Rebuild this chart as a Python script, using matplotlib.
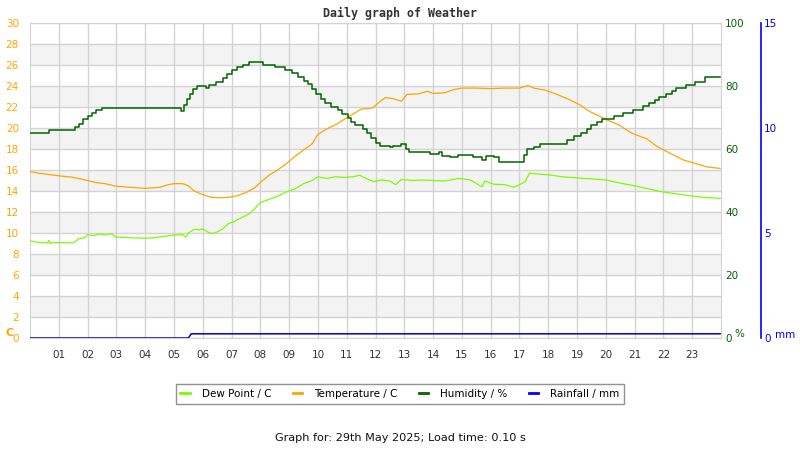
import matplotlib
matplotlib.use('Agg')
import matplotlib.pyplot as plt
from matplotlib.lines import Line2D

# Data (hours since midnight)
temp_h = [0.0, 0.3, 0.7, 1.0, 1.5, 2.0, 2.3, 2.6, 3.0, 3.5, 4.0, 4.5, 4.8, 5.0, 5.3, 5.5,
          5.7, 6.0, 6.3, 6.6, 6.9, 7.2, 7.5, 7.8, 8.0, 8.3, 8.6, 8.9, 9.2, 9.5, 9.8, 10.0,
          10.3, 10.6, 10.9, 11.2, 11.5, 11.9, 12.1, 12.35, 12.6, 12.9, 13.1, 13.5, 13.8,
          14.0, 14.4, 14.7, 15.0, 15.5, 16.0, 16.5, 17.0, 17.3, 17.5, 17.9, 18.3, 18.7,
          19.1, 19.45, 19.8, 20.1, 20.45, 20.9, 21.4, 21.8, 22.3, 22.7, 23.2, 23.5, 23.97]
temp_c = [15.85, 15.7, 15.55, 15.45, 15.3, 15.0, 14.8, 14.7, 14.45, 14.35, 14.25, 14.35,
          14.6, 14.7, 14.7, 14.5, 14.0, 13.65, 13.4, 13.35, 13.4, 13.55, 13.85, 14.3, 14.8,
          15.5, 16.0, 16.6, 17.3, 17.9, 18.5, 19.4, 19.9, 20.3, 20.8, 21.3, 21.8, 21.9, 22.4,
          22.9, 22.8, 22.55, 23.2, 23.25, 23.5, 23.3, 23.35, 23.65, 23.8, 23.8, 23.75, 23.8,
          23.8, 24.05, 23.8, 23.6, 23.2, 22.75, 22.2, 21.55, 21.1, 20.7, 20.3, 19.5, 19.0,
          18.2, 17.5, 16.95, 16.55, 16.3, 16.15]

dew_h = [0.0, 0.3, 0.6, 0.65, 0.7, 0.8, 1.5, 1.7, 1.9, 2.0, 2.2, 2.4, 2.6, 2.8, 3.0, 3.5,
         4.0, 4.3, 4.7, 5.0, 5.3, 5.4, 5.5, 5.7, 5.9, 6.0, 6.2, 6.35, 6.5, 6.7, 6.9, 7.1,
         7.3, 7.6, 7.8, 8.0, 8.3, 8.6, 8.9, 9.2, 9.5, 9.8, 10.0, 10.3, 10.6, 10.9, 11.2,
         11.45, 11.7, 11.95, 12.2, 12.5, 12.7, 12.9, 13.3, 13.6, 14.0, 14.4, 14.9, 15.3,
         15.7, 15.8, 16.1, 16.5, 16.8, 17.0, 17.2, 17.35, 17.7, 18.0, 18.5, 19.0, 19.5,
         20.0, 20.5, 20.9, 21.4, 21.9, 22.4, 22.9, 23.4, 23.97]
dew_c = [9.25, 9.1, 9.05, 9.3, 9.0, 9.1, 9.05, 9.45, 9.55, 9.85, 9.75, 9.9, 9.8, 9.95, 9.6,
         9.55, 9.5, 9.55, 9.7, 9.8, 9.85, 9.6, 10.0, 10.35, 10.3, 10.4, 10.05, 9.95, 10.1,
         10.4, 10.9, 11.1, 11.4, 11.8, 12.3, 12.9, 13.2, 13.5, 13.9, 14.2, 14.7, 15.0, 15.35,
         15.2, 15.35, 15.3, 15.35, 15.5, 15.15, 14.9, 15.05, 14.95, 14.6, 15.1, 15.0, 15.05,
         15.0, 14.95, 15.2, 15.05, 14.4, 14.95, 14.65, 14.6, 14.35, 14.6, 14.9, 15.7, 15.6,
         15.55, 15.35, 15.25, 15.15, 15.05, 14.75, 14.55, 14.25, 13.95, 13.75, 13.55, 13.4,
         13.3]

hum_h = [0.0, 0.65, 1.55, 1.7, 1.85, 2.0, 2.15, 2.3, 2.5, 5.25, 5.35, 5.45, 5.55, 5.65,
         5.8, 6.1, 6.2, 6.45, 6.7, 6.85, 7.0, 7.2, 7.4, 7.6, 8.1, 8.5, 8.85, 9.1, 9.3, 9.5,
         9.65, 9.8, 9.95, 10.1, 10.25, 10.45, 10.7, 10.85, 11.05, 11.15, 11.3, 11.55, 11.7,
         11.85, 12.0, 12.15, 12.5, 12.6, 12.9, 13.05, 13.15, 13.9, 14.2, 14.3, 14.6, 14.85,
         15.3, 15.4, 15.7, 15.85, 16.1, 16.3, 17.15, 17.25, 17.5, 17.7, 18.65, 18.9, 19.15,
         19.35, 19.5, 19.7, 19.85, 20.3, 20.6, 20.95, 21.3, 21.5, 21.7, 21.85, 22.1, 22.3,
         22.45, 22.8, 23.1, 23.45, 23.97]
hum_pct = [65.0, 66.0, 67.0, 68.0, 69.5, 70.5, 71.5, 72.3, 73.0, 72.0, 74.0, 76.0, 77.5,
           79.0, 80.0, 79.5, 80.3, 81.3, 82.5, 83.8, 85.0, 86.0, 86.8, 87.6, 86.6, 86.0,
           85.2, 84.2, 83.0, 81.5, 80.5, 79.0, 77.5, 76.0, 74.5, 73.3, 72.3, 71.0, 70.0,
           68.5, 67.5, 66.5, 65.0, 63.5, 62.0, 61.0, 60.5, 61.0, 61.5, 60.0, 59.0, 58.5,
           59.0, 57.8, 57.5, 58.2, 58.0, 57.4, 56.5, 57.8, 57.5, 55.8, 58.0, 60.0, 60.5,
           61.5, 63.0, 64.0, 65.0, 66.5, 67.5, 68.5, 69.5, 70.5, 71.5, 72.5, 73.5, 74.5,
           75.5, 76.5, 77.5, 78.5, 79.3, 80.3, 81.3, 83.0, 83.0]

rain_h = [0.0, 5.5, 5.6, 23.97]
rain_mm = [0.0, 0.0, 0.2, 0.2]

hour_labels = ['%02d' % h for h in range(1, 24)]
series_names = ['Dew Point / C', 'Temperature / C', 'Humidity / %', 'Rainfall / mm']

ORANGE = '#ffa500'
LIME = '#7cfc00'
DKGREEN = '#006400'
BLUE = '#0000ff'
GRID = '#d3d3d3'

fig = plt.figure(figsize=(8, 4.5), dpi=100)
ax = fig.add_axes([30 / 800, 1 - 338 / 450, 691 / 800, 315 / 450])

# alternating bands
for lo in range(2, 30, 4):
    ax.axhspan(lo, lo + 2, color='#f3f3f3', zorder=0, lw=0)
ax.set_xlim(0, 24)
ax.set_ylim(0, 30)
ax.set_yticks(range(0, 31, 2))
ax.set_xticks(range(1, 24))
ax.set_xticklabels(hour_labels)
ax.grid(True, color=GRID, lw=1, zorder=1)
ax.set_axisbelow(True)
ax.tick_params(axis='y', length=0, pad=8, labelsize=7.5, labelcolor=ORANGE)
ax.tick_params(axis='x', length=0, pad=9, labelsize=7.5, labelcolor='#333333')
for s in ax.spines.values():
    s.set_color(GRID)

ax.plot(dew_h, dew_c, color=LIME, lw=0.9, zorder=3)
ax.plot(temp_h, temp_c, color=ORANGE, lw=0.9, zorder=3)

ax_h = ax.twinx()
ax_h.set_ylim(0, 100)
ax_h.set_yticks(range(0, 101, 20))
ax_h.tick_params(axis='y', length=0, pad=3, labelsize=7.5, labelcolor=DKGREEN)
for s in ax_h.spines.values():
    s.set_visible(False)
ax_h.step(hum_h, hum_pct, where='post', color=DKGREEN, lw=1.1, zorder=4)

ax_r = ax.twinx()
ax_r.set_ylim(0, 15)
ax_r.set_yticks([0, 5, 10, 15])
ax_r.spines['right'].set_position(('outward', 29))
ax_r.spines['right'].set_color(BLUE)
ax_r.spines['right'].set_linewidth(1.2)
for k in ['top', 'left', 'bottom']:
    ax_r.spines[k].set_visible(False)
ax_r.tick_params(axis='y', length=0, pad=2, labelsize=7.5, labelcolor=BLUE)
ax_r.plot(rain_h, rain_mm, color='#0000cd', lw=1.1, zorder=5)

fig.text(5 / 800, 1 - 333 / 450, 'C', color=ORANGE, fontsize=8, fontweight='bold',
         va='center', ha='left')
fig.text(734 / 800, 1 - 334 / 450, '%', color=DKGREEN, fontsize=7.5, va='center', ha='left')
fig.text(775 / 800, 1 - 335 / 450, 'mm', color=BLUE, fontsize=7.5, va='center', ha='left')

fig.text(0.5, 1 - 13 / 450, 'Daily graph of Weather', family='DejaVu Sans Mono',
         fontweight='bold', fontsize=8.4, color='#333333', ha='center', va='center')

handles = [Line2D([], [], color=c, lw=2) for c in [LIME, ORANGE, DKGREEN, BLUE]]
leg = fig.legend(handles, series_names, loc='center', ncol=4,
                 bbox_to_anchor=(0.5, 1 - 394 / 450), fontsize=7.5, frameon=True,
                 fancybox=False, edgecolor='#777777', handlelength=0.9, handletextpad=1.2,
                 columnspacing=2.0, borderpad=0.45, borderaxespad=0)
leg.get_frame().set_linewidth(1)

fig.text(0.5, 1 - 438 / 450, 'Graph for: 29th May 2025; Load time: 0.10 s', fontsize=8.1,
         color='#111111', ha='center', va='center')

fig.savefig('out.png', dpi=100)
